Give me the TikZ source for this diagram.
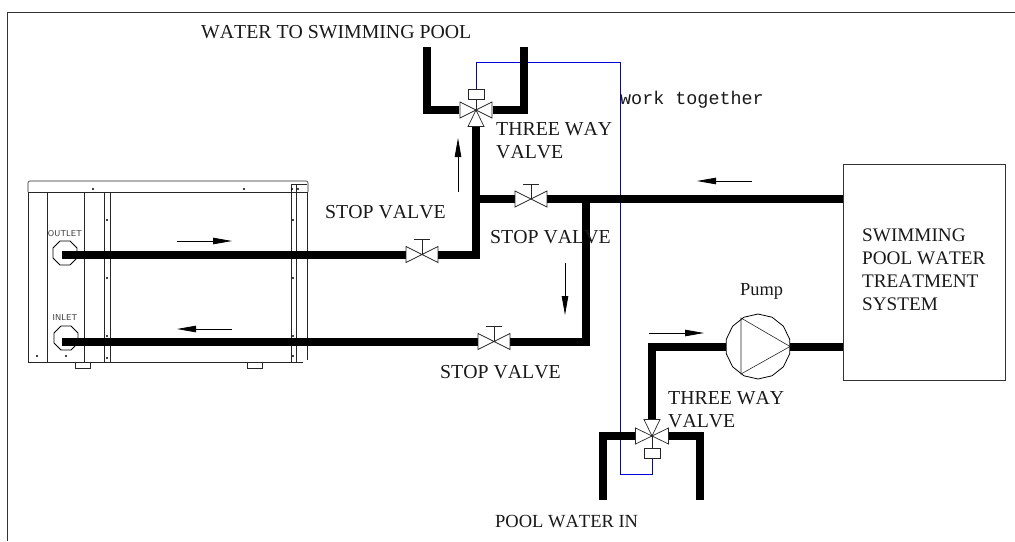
\documentclass[tikz,border=0pt]{standalone}
\usepackage{fontspec}
\setmainfont[Kerning=Off]{Liberation Serif}
\newfontfamily\monofont{Liberation Mono}
\usetikzlibrary{arrows.meta,shapes.geometric}
\tikzset{
  pipe/.style={line width=8pt},
  thin line/.style={line width=0.6pt,black!85},
  valve/.style={line width=0.7pt,black!85},
  ctrl/.style={line width=0.9pt,blue!85!black},
  flow/.style={line width=0.8pt,-{Triangle[length=19pt,width=6.5pt]}},
  lbl/.style={font=\fontsize{19.8}{23}\selectfont,anchor=west,inner sep=0pt,black!90,align=left},
  tiny lbl/.style={font=\sffamily\fontsize{8.5}{10}\selectfont,inner sep=0pt,black!80},
  port/.style={regular polygon,regular polygon sides=8,draw,line width=0.8pt,minimum size=26pt,inner sep=0pt},
  stopbox/.style={inner sep=0pt,minimum width=32pt,minimum height=16pt},
  threebox/.style={inner sep=0pt,minimum width=33pt,minimum height=33pt},
}
\begin{document}
\begin{tikzpicture}[x=1pt,y=-1pt]
  \useasboundingbox (0,0) rectangle (1015,541);
  % frame
  \draw[line width=1pt,black!80] (7,541) -- (7,12) -- (1015,12);

  % positions
  \coordinate (out) at (62,254.5);
  \coordinate (in) at (62,341.5);
  \node[stopbox] (svA) at (422,254.5) {};
  \node[stopbox] (svB) at (531,199) {};
  \node[stopbox] (svC) at (494,341.5) {};
  \node[threebox] (tvA) at (476,110) {};
  \node[threebox] (tvB) at (652,436) {};
  \coordinate (teeA) at (476,199);
  \coordinate (teeB) at (586,199);
  \coordinate (cnrA) at (476,254.5);
  \coordinate (cnrB) at (586,341.5);
  \coordinate (cnrC) at (652,346.5);
  \node[draw,line width=1pt,black!80,minimum width=162pt,minimum height=216pt,inner sep=0pt] (plant) at (924,272) {};
  \node[regular polygon,regular polygon sides=14,shape border rotate=90,draw,line width=0.8pt,minimum size=65pt,inner sep=0pt] (pump) at (758,346.5) {};

  % control line
  \draw[ctrl] (tvA.center) ++(0,-21) -- ++(0,-27) -- (620,62) -- (620,474) -- (652,474) -- ++(0,-16);

  % heat pump
  \draw[thin line,rounded corners=2pt] (28,192) -- (28,181) -- (308,181) -- (308,192);
  \draw[thin line] (28,192) -- (308,192);
  \draw[thin line] (28,192) -- (28,362) -- (303,362);
  \draw[thin line] (307,192) -- (307,360);
  \foreach \x in {47,84,104,110,291,296}
    \draw[thin line] (\x,192) -- (\x,362);
  \draw[thin line] (291,184) -- (291,192) (296,184) -- (296,192) (291,184) -- (307,184);
  \foreach \x in {75,247}
    \draw[thin line] (\x,362) -- (\x,368) -- (\x+15,368) -- (\x+15,362);
  \foreach \x/\y in {93/189, 244/189, 292/189, 298/189, 107/220, 107/278, 107/336, 107/358, 37/356, 66/356, 293/220, 293/278, 293/336, 293/356}
    \fill (\x,\y) circle (1.2pt);
  \node[port] (outport) at (65,253) {};
  \node[port] (inport) at (66,338) {};
  \node[tiny lbl] (outtxt) at (65,234) {OUTLET};
  \node[tiny lbl] (intxt) at (65,318) {INLET};

  % pipes
  \draw[pipe] (out) -- (svA.west);
  \draw[pipe] (svA.east) -- (cnrA) -- (tvA.south);
  \draw[pipe] (teeA) -- (svB.west);
  \draw[pipe] (svB.east) -- (plant.west |- svB);
  \draw[pipe] (in) -- (svC.west);
  \draw[pipe] (svC.east) -- (cnrB) -- (teeB);
  \draw[pipe] (tvA.west) -- (427,110) -- (427,47);
  \draw[pipe] (tvA.east) -- (524,110) -- (524,47);
  \draw[pipe] (tvB.west) -- (603,436) -- (603,500);
  \draw[pipe] (tvB.east) -- (700,436) -- (700,500);
  \draw[pipe] (tvB.north) -- (cnrC) -- (pump.west |- cnrC);
  \draw[pipe] (pump.east |- cnrC) -- (plant.west |- cnrC);

  % stop valves
  \foreach \V in {svA,svB,svC} {
    \draw[valve] (\V.center) -- ++(-16,-8) -- ++(0,16) -- cycle (\V.center) -- ++(16,-8) -- ++(0,16) -- cycle;
    \draw[thin line] (\V.center) -- ++(0,-15) ++(-8,0) -- ++(16,0);
  }

  % three way valves
  \draw[valve] (tvA.center) -- ++(-16,-8) -- ++(0,16) -- cycle (tvA.center) -- ++(16,-8) -- ++(0,16) -- cycle (tvA.center) -- ++(-8,16.5) -- ++(16,0) -- cycle;
  \draw[thin line] (tvA.center) ++(-8,-21) rectangle ++(16,10);
  \draw[thin line] (tvA.center) -- ++(0,-11);
  \draw[valve] (tvB.center) -- ++(-16.5,-8) -- ++(0,16) -- cycle (tvB.center) -- ++(16.5,-8) -- ++(0,16) -- cycle (tvB.center) -- ++(-8,-16.5) -- ++(16,0) -- cycle;
  \draw[thin line] (tvB.center) ++(-8,12) rectangle ++(16,10);
  \draw[thin line] (tvB.center) -- ++(0,12);

  % pump triangle
  \draw[thin line] (741,318) -- (741,374) -- (790,346.5) -- cycle;

  % flow arrows
  \draw[flow] (177,241) -- (232,241);
  \draw[flow] (232,329) -- (177,329);
  \draw[flow] (458,192) -- (458,138);
  \draw[flow] (565,263) -- (565,315);
  \draw[flow] (752,181) -- (697,181);
  \draw[flow] (649,333) -- (704,333);

  % texts
  \node[lbl] (wts) at (201,32) {WATER TO SWIMMING POOL};
  \node[lbl,font=\fontsize{18.5}{23}\selectfont] (pwi) at (495,522) {POOL WATER IN};
  \node[lbl] (tvAtxt) at (496,141) {THREE WAY\\VALVE};
  \node[lbl] (tvBtxt) at (668,410) {THREE WAY\\VALVE};
  \node[lbl] (svAtxt) at (325,212) {STOP VALVE};
  \node[lbl] (svBtxt) at (490,237) {STOP VALVE};
  \node[lbl] (svCtxt) at (440,372) {STOP VALVE};
  \node[lbl,font=\fontsize{19.2}{23}\selectfont] (plantxt) at (862,270) {SWIMMING\\POOL WATER\\TREATMENT\\SYSTEM};
  \node[lbl,font=\monofont\fontsize{18.4}{20}\selectfont] (wtg) at (620,100) {work together};
  \node[lbl,font=\fontsize{18.4}{20}\selectfont] (pumptxt) at (740,291) {Pump};
\end{tikzpicture}
\end{document}
